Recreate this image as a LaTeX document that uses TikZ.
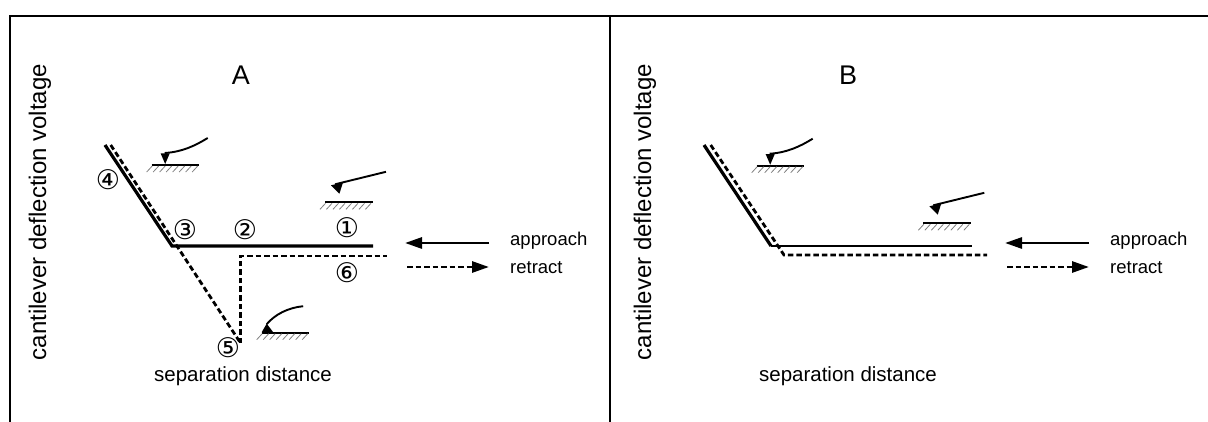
\documentclass[tikz,border=0pt]{standalone}
\usepackage{fontspec}
\setmainfont{Liberation Sans}
\newfontfamily\circfont{DejaVu Sans}
\usetikzlibrary{arrows.meta}
\begin{document}
\begin{tikzpicture}[x=1pt,y=-1pt,
  frameline/.style={line width=2.4pt},
  curvesolid/.style={line width=3.2pt,line join=miter},
  curvethin/.style={line width=1.7pt},
  curvedash/.style={line width=2.8pt,dash pattern=on 5.5pt off 3pt},
  yaxislabel/.style={font=\fontsize{24}{26}\selectfont,inner sep=0pt},
  xaxislabel/.style={font=\fontsize{20.5}{22}\selectfont,inner sep=0pt},
  panellabel/.style={font=\fontsize{27}{28}\selectfont,inner sep=0pt},
  legendtext/.style={font=\fontsize{18.5}{20}\selectfont,inner sep=0pt,anchor=west},
  num/.style={font=\circfont\fontsize{27}{27}\selectfont,inner sep=0pt},
  surface/.pic={
    \draw[line width=2pt] (0,0) -- (47.5,0);
    \foreach \h in {0,6.5,...,45.5}
      \draw[gray,line width=0.8pt] (\h-5,7) -- (\h+0.5,1);
  },
  contactlever/.pic={
    \fill (9,-11.5) -- (18,-11.5) -- (13.5,-1) -- cycle;
    \draw[line width=1.9pt] (13,-12) .. controls (30,-13) and (43,-19) .. (56,-27);
  },
  freelever/.pic={
    \draw[line width=1.9pt] (10,-18) -- (61,-30.5);
    \fill (6,-17) -- (18,-19.9) -- (14.4,-8.6) -- cycle;
  },
  stucklever/.pic={
    \fill (0,-0.5) -- (11.5,-0.5) -- (5,-9) -- cycle;
    \draw[line width=1.9pt] (5,-8.5) .. controls (13,-18) and (26,-25) .. (41.5,-26.5);
  },
  approachline/.style={line width=2.8pt,-{Triangle[length=17pt,width=11pt]}},
  retractline/.style={line width=2.8pt,dash pattern=on 5.5pt off 3pt,-{Triangle[length=17pt,width=11pt]}}
]
\useasboundingbox (0,0) rectangle (1208,422);

% frame
\coordinate (fl) at (10,422);
\coordinate (ftl) at (10,16);
\coordinate (ftr) at (1208,16);
\coordinate (md) at (610,16);
\coordinate (mb) at (610,422);
\draw[frameline] (fl) -- (ftl) -- (ftr);
\draw[frameline] (md) -- (mb);

% ---------- panel A ----------
\node[panellabel] (labA) at (241,75) {A};
\node[yaxislabel,rotate=90] (yA) at (40,212) {cantilever deflection voltage};
\node[xaxislabel] (xA) at (243,376) {separation distance};

\coordinate (sA0) at (105,145);
\coordinate (sA1) at (172,246);
\coordinate (sA2) at (373,246);
\draw[curvesolid] (sA0) -- (sA1) -- (sA2);

\coordinate (dA0) at (110.7,145);
\coordinate (dA1) at (240.5,343);
\coordinate (dA2) at (240.5,256);
\coordinate (dA3) at (387,256);
\draw[curvedash] (dA0) -- (dA1);
\draw[curvedash] (dA1) -- (dA2) -- (dA3);

\node[num] (n1) at (347,228) {①};
\node[num] (n2) at (245,230) {②};
\node[num] (n3) at (185,230) {③};
\node[num] (n4) at (108,180) {④};
\node[num] (n5) at (228,348) {⑤};
\node[num] (n6) at (347,273) {⑥};

\pic at (151.7,165) {surface};
\pic at (151.7,165) {contactlever};
\pic at (325,202.3) {surface};
\pic at (325,202.3) {freelever};
\pic at (261.7,332.7) {surface};
\pic at (261.7,332.7) {stucklever};

\coordinate (apA0) at (489,243);
\coordinate (apA1) at (405,243);
\coordinate (rtA0) at (407,267);
\coordinate (rtA1) at (489,267);
\draw[approachline] (apA0) -- (apA1);
\draw[retractline] (rtA0) -- (rtA1);
\node[legendtext] (apAt) at (510,241) {approach};
\node[legendtext] (rtAt) at (510,268) {retract};

% ---------- panel B ----------
\node[panellabel] (labB) at (848,75) {B};
\node[yaxislabel,rotate=90] (yB) at (645,212) {cantilever deflection voltage};
\node[xaxislabel] (xB) at (848,376) {separation distance};

\coordinate (sB0) at (704,145);
\coordinate (sB1) at (771,246);
\coordinate (sB2) at (972,246);
\draw[curvesolid] (sB0) -- (sB1);
\draw[curvethin] (sB1) -- (sB2);

\coordinate (dB0) at (710.7,145);
\coordinate (dB1) at (784,255);
\coordinate (dB2) at (987,255);
\draw[curvedash] (dB0) -- (dB1) -- (dB2);

\pic at (756.7,165.7) {surface};
\pic at (756.7,165.7) {contactlever};
\pic at (923.3,223.3) {surface};
\pic at (923.3,223.3) {freelever};

\coordinate (apB0) at (1089,243);
\coordinate (apB1) at (1005,243);
\coordinate (rtB0) at (1007,267);
\coordinate (rtB1) at (1089,267);
\draw[approachline] (apB0) -- (apB1);
\draw[retractline] (rtB0) -- (rtB1);
\node[legendtext] (apBt) at (1110,241) {approach};
\node[legendtext] (rtBt) at (1110,268) {retract};
\end{tikzpicture}
\end{document}
